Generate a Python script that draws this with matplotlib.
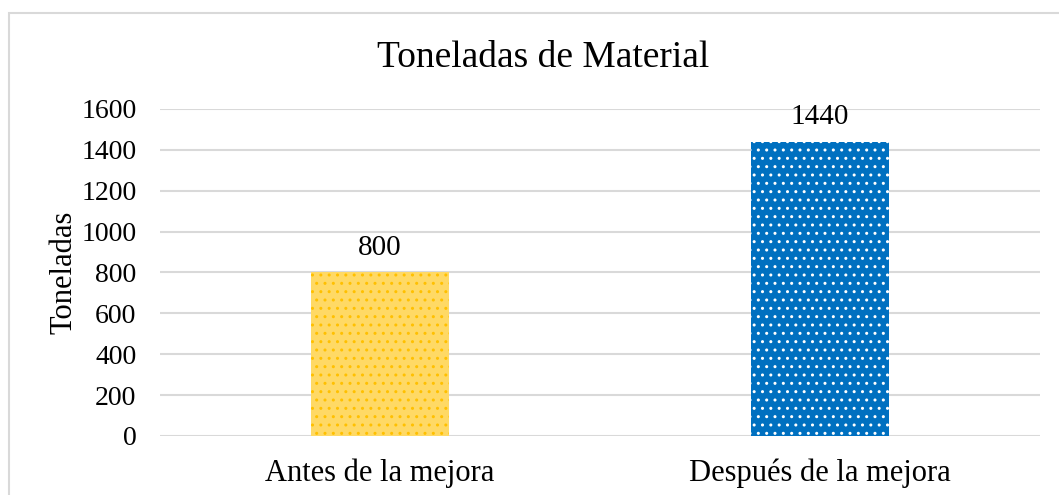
import matplotlib
matplotlib.use('Agg')
import matplotlib.pyplot as plt
from matplotlib.patches import Rectangle

# Data
categorias = ['Antes de la mejora', 'Después de la mejora']
toneladas = [800, 1440]
y_ticks = [0, 200, 400, 600, 800, 1000, 1200, 1400, 1600]

plt.rcParams['font.family'] = ['Liberation Serif', 'DejaVu Serif']
plt.rcParams['hatch.linewidth'] = 1.0

fig = plt.figure(figsize=(10.59, 4.95), dpi=100)
ax = fig.add_axes([0.1511, 0.1192, 0.831, 0.6606])

# Chart frame
fig.patches.append(Rectangle((8.5 / 1059, -0.05), 1.1, 1 - 12.5 / 495 + 0.05,
                             transform=fig.transFigure, fill=False,
                             edgecolor='#d9d9d9', linewidth=1.5))

x = range(len(categorias))
face = ['#ffd965', '#0070c0']
dots = ['#ffc000', '#ffffff']
for i in x:
    ax.bar(i, toneladas[i], width=0.314, color=face[i], edgecolor=dots[i],
           hatch='..', linewidth=0, zorder=3)
    ax.text(i, toneladas[i] + 58, str(toneladas[i]), ha='center', va='bottom',
            fontsize=21)

ax.set_xlim(-0.5, 1.5)
ax.set_ylim(0, 1600)
ax.set_yticks(y_ticks)
ax.set_xticks(list(x))
ax.set_xticklabels(categorias, fontsize=22)
ax.tick_params(axis='y', length=0, labelsize=20, pad=17)
ax.tick_params(axis='x', length=0, pad=16)
ax.grid(axis='y', color='#d9d9d9', linewidth=1.5, zorder=0)
for s in ax.spines.values():
    s.set_visible(False)

ax.set_ylabel('Toneladas', fontsize=22, labelpad=2)
fig.text(543.5 / 1059, 1 - 58 / 495, 'Toneladas de Material', ha='center',
         va='center', fontsize=27)

fig.savefig('out.png', dpi=100)
